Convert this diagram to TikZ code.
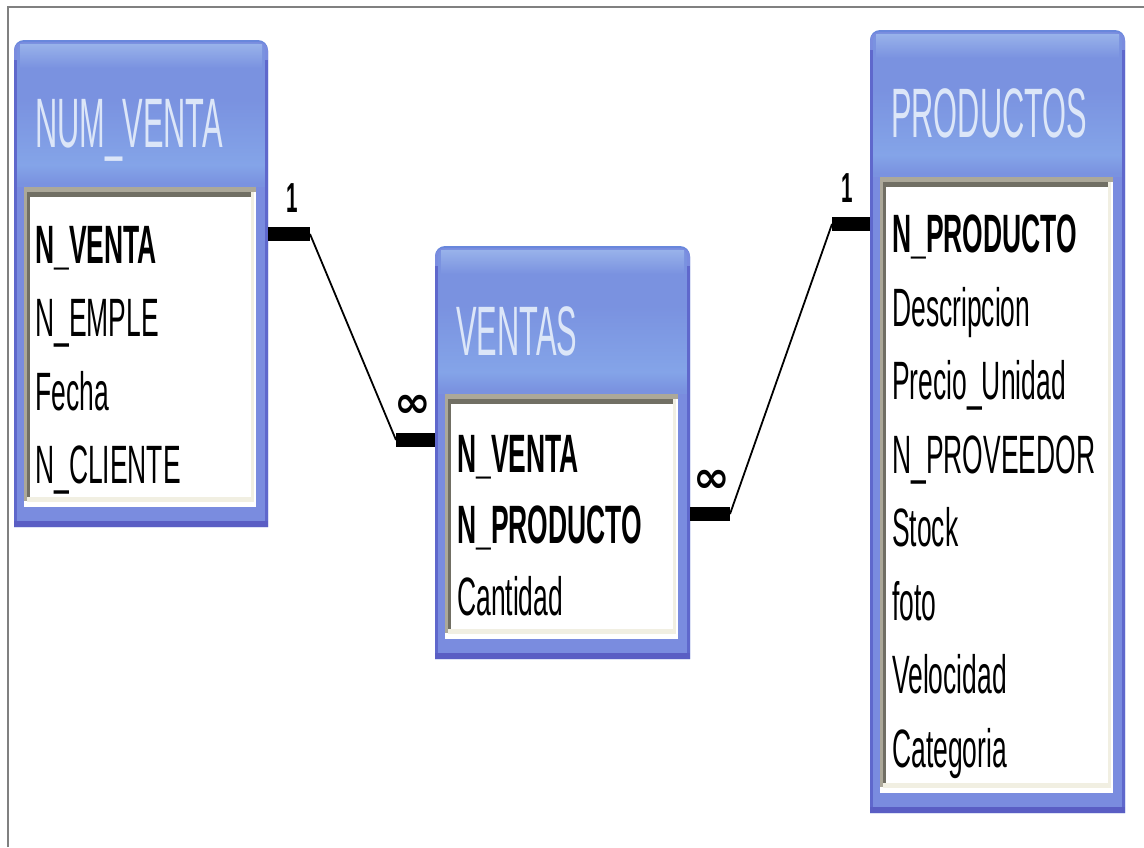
\documentclass[tikz,border=0pt]{standalone}
\usepackage{fontspec}
\setmainfont{Liberation Sans}
\newfontfamily\fieldfont[FakeStretch=0.49]{Liberation Sans}
\newfontfamily\titlefont[FakeStretch=0.44]{Liberation Sans}
\newfontfamily\symfont{DejaVu Sans}
\usetikzlibrary{calc}
\definecolor{tblblue}{HTML}{7A8CDF}
\definecolor{hdrlight}{HTML}{98B2EA}
\definecolor{hdrmid}{HTML}{7A92E0}
\definecolor{hdrbot}{HTML}{84A4E8}
\definecolor{edgedark}{HTML}{5F68CC}
\definecolor{bottomdark}{HTML}{5A5EC4}
\definecolor{topedge}{HTML}{6887DC}
\definecolor{graylight}{HTML}{ACA899}
\definecolor{graydark}{HTML}{716F64}
\definecolor{cream}{HTML}{F1EFE2}
\definecolor{titlecol}{HTML}{DCE6F8}
\definecolor{framegray}{HTML}{808080}
\tikzset{
  field/.style={anchor=base west, inner sep=0pt, font=\fieldfont\fontsize{54}{60}\selectfont, text=black},
  keyfield/.style={field, font=\fieldfont\bfseries\fontsize{54}{60}\selectfont},
  tbltitle/.style={anchor=base west, inner sep=0pt, font=\titlefont\fontsize{70}{80}\selectfont, text=titlecol},
  card/.style={anchor=base, inner sep=0pt, font=\fieldfont\bfseries\fontsize{42}{46}\selectfont},
  many/.style={anchor=center, inner sep=0pt, font=\symfont\bfseries\fontsize{44}{48}\selectfont},
  bar/.style={line width=14pt, black},
  rel/.style={line width=1.8pt, black},
}
% #1 name, #2 x1, #3 y1, #4 x2, #5 y2, #6 inner top, #7 title, #8 title baseline
\newcommand\dbtable[8]{%
  \fill[topedge] (#2,#5) [rounded corners=10pt] -- (#2,#3) -- (#4,#3) [sharp corners] -- (#4,#5) -- cycle;
  \fill[tblblue] (#2,#5) [rounded corners=9pt] -- (#2,#3+2) -- (#4,#3+2) [sharp corners] -- (#4,#5) -- cycle;
  \fill[hdrmid] (#2+3,#6) [rounded corners=8pt] -- (#2+3,#3+3) -- (#4-3,#3+3) [sharp corners] -- (#4-3,#6) -- cycle;
  \shade[top color=hdrlight, bottom color=hdrmid] (#2+6,#3+4) rectangle (#4-6,#3+28);
  \shade[top color=hdrmid, bottom color=hdrbot] (#2+3,#3+60) rectangle (#4-3,#6-22);
  \shade[top color=hdrbot, bottom color=hdrmid] (#2+3,#6-22) rectangle (#4-3,#6-4);
  \fill[edgedark] (#2,#3+20) rectangle (#2+3,#5);
  \fill[edgedark] (#4-3,#3+20) rectangle (#4,#5);
  \fill[bottomdark] (#2,#5-6) rectangle (#4,#5);
  \fill[white] (#2+10,#6) rectangle (#4-12,#5-20);
  \fill[graylight] (#2+10,#6) rectangle (#4-12,#6+5);
  \fill[graylight] (#2+10,#6) rectangle (#2+13,#5-26);
  \fill[graydark] (#2+13,#6+5) rectangle (#4-16,#6+10);
  \fill[graydark] (#2+13,#6+5) rectangle (#2+16,#5-28);
  \fill[cream] (#4-17,#6+5) rectangle (#4-14,#5-25);
  \fill[cream] (#2+13,#5-30) rectangle (#4-14,#5-25);
  \node[inner sep=0pt, minimum width={(#4-#2)*1pt}, minimum height={(#5-#3)*1pt}] (#1) at ({(#2+#4)/2},{(#3+#5)/2}) {};
  \node[tbltitle] (#1-title) at (#2+21,#8) {#7};
}
\begin{document}
\begin{tikzpicture}[x=1pt, y=-1pt]
\useasboundingbox (0,0) rectangle (1144,847);
\fill[white] (0,0) rectangle (1144,847);
\draw[framegray, line width=2pt] (7.5,847) -- (7.5,6.5) -- (1144,6.5);

\dbtable{numventa}{14}{40}{268}{527}{187}{NUM\_VENTA}{147}
\dbtable{ventas}{435}{246}{690}{659}{394}{VENTAS}{355}
\dbtable{productos}{870}{30}{1125}{813}{177}{PRODUCTOS}{137}

% NUM_VENTA fields
\node[keyfield] (nv1) at (35,263) {N\_VENTA};
\node[field] (nv2) at (35,336) {N\_EMPLE};
\node[field] (nv3) at (35,410) {Fecha};
\node[field] (nv4) at (35,483) {N\_CLIENTE};

% VENTAS fields
\node[keyfield] (v1) at (457,472) {N\_VENTA};
\node[keyfield] (v2) at (457,543) {N\_PRODUCTO};
\node[field] (v3) at (457,615) {Cantidad};

% PRODUCTOS fields
\node[keyfield] (p1) at (892,252.5) {N\_PRODUCTO};
\node[field] (p2) at (892,326) {Descripcion};
\node[field] (p3) at (892,399.5) {Precio\_Unidad};
\node[field] (p4) at (892,473) {N\_PROVEEDOR};
\node[field] (p5) at (892,546.5) {Stock};
\node[field] (p6) at (892,620) {foto};
\node[field] (p7) at (892,693.5) {Velocidad};
\node[field] (p8) at (892,767) {Categoria};

% relationship NUM_VENTA - VENTAS
\coordinate (e1) at (310,234);
\coordinate (e2) at (396,440);
\draw[bar] (numventa.east |- e1) -- (e1);
\draw[rel] (e1) -- (e2);
\draw[bar] (e2) -- (ventas.west |- e2);
\node[card] (c1) at (292,212) {1};
\node[many] (m1) at (413,406) {∞};

% relationship VENTAS - PRODUCTOS
\coordinate (e3) at (730,514);
\coordinate (e4) at (832,224);
\draw[bar] (ventas.east |- e3) -- (e3);
\draw[rel] (e3) -- (e4);
\draw[bar] (e4) -- (productos.west |- e4);
\node[card] (c2) at (847,202) {1};
\node[many] (m2) at (712,481) {∞};
\end{tikzpicture}
\end{document}
